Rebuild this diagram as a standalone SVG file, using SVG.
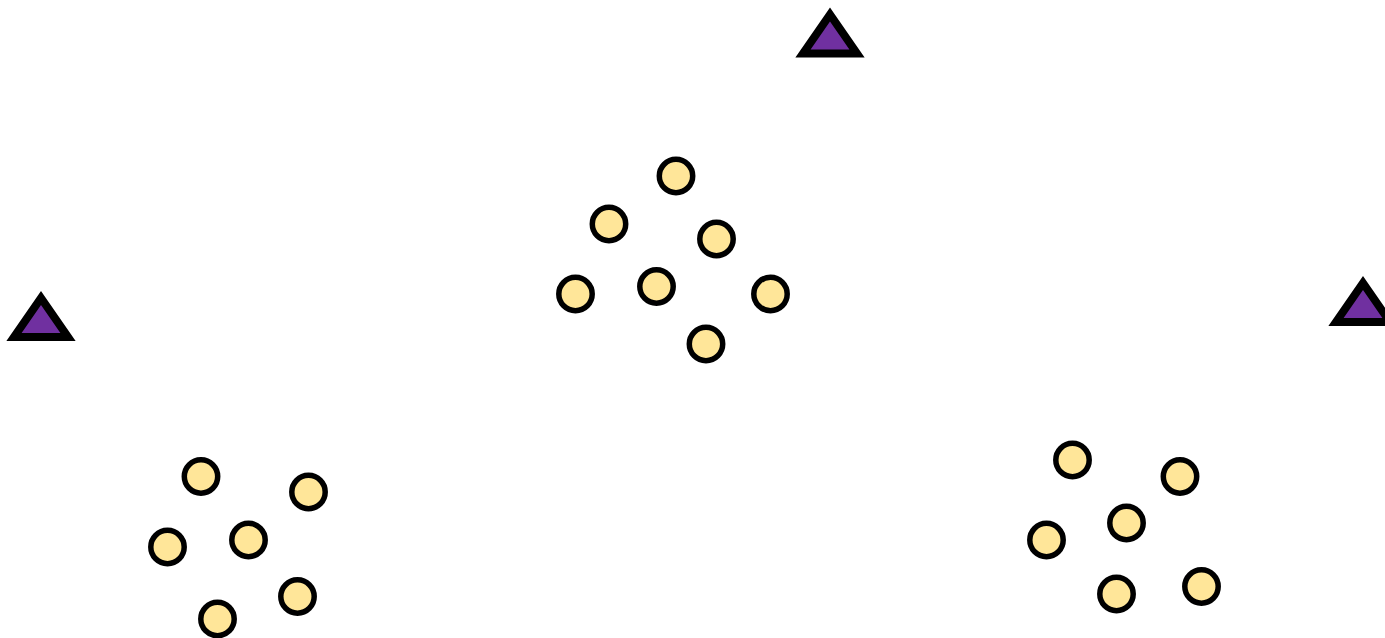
<svg xmlns="http://www.w3.org/2000/svg" width="1385" height="638" viewBox="0 0 1385 638">
<style>
.c{fill:#ffe699;stroke:#000;stroke-width:5.5}
.t{fill:#7030a0;stroke:#000;stroke-width:8;stroke-linejoin:miter}
</style>
<defs>
<path id="tri" d="M0,0 L27,39 L-27,39 Z"/>
</defs>
<rect width="1385" height="638" fill="#fff"/>
<g id="triangles">
<g id="t1"><use href="#tri" class="t" x="830" y="14.5"/></g>
<g id="t2"><use href="#tri" class="t" x="41" y="298"/></g>
<g id="t3"><use href="#tri" class="t" x="1363" y="283"/></g>
</g>
<g id="cluster-top">
<circle id="a1" class="c" cx="676" cy="176" r="16.7"/>
<circle id="a2" class="c" cx="609" cy="224" r="16.7"/>
<circle id="a3" class="c" cx="716.5" cy="239" r="16.7"/>
<circle id="a4" class="c" cx="575.5" cy="294" r="16.7"/>
<circle id="a5" class="c" cx="656.5" cy="286.5" r="16.7"/>
<circle id="a6" class="c" cx="770.5" cy="294" r="16.7"/>
<circle id="a7" class="c" cx="706" cy="344" r="16.7"/>
</g>
<g id="cluster-left">
<circle id="b1" class="c" cx="201" cy="476.5" r="16.7"/>
<circle id="b2" class="c" cx="308.5" cy="492" r="16.7"/>
<circle id="b3" class="c" cx="167.5" cy="547" r="16.7"/>
<circle id="b4" class="c" cx="248.5" cy="540" r="16.7"/>
<circle id="b5" class="c" cx="297.5" cy="596.5" r="16.7"/>
<circle id="b6" class="c" cx="217.5" cy="619" r="16.7"/>
</g>
<g id="cluster-right">
<circle id="d1" class="c" cx="1072.5" cy="460" r="16.7"/>
<circle id="d2" class="c" cx="1180" cy="476.5" r="16.7"/>
<circle id="d3" class="c" cx="1126.5" cy="523" r="16.7"/>
<circle id="d4" class="c" cx="1046.5" cy="540" r="16.7"/>
<circle id="d5" class="c" cx="1116.5" cy="594" r="16.7"/>
<circle id="d6" class="c" cx="1201.5" cy="586.5" r="16.7"/>
</g>
</svg>
